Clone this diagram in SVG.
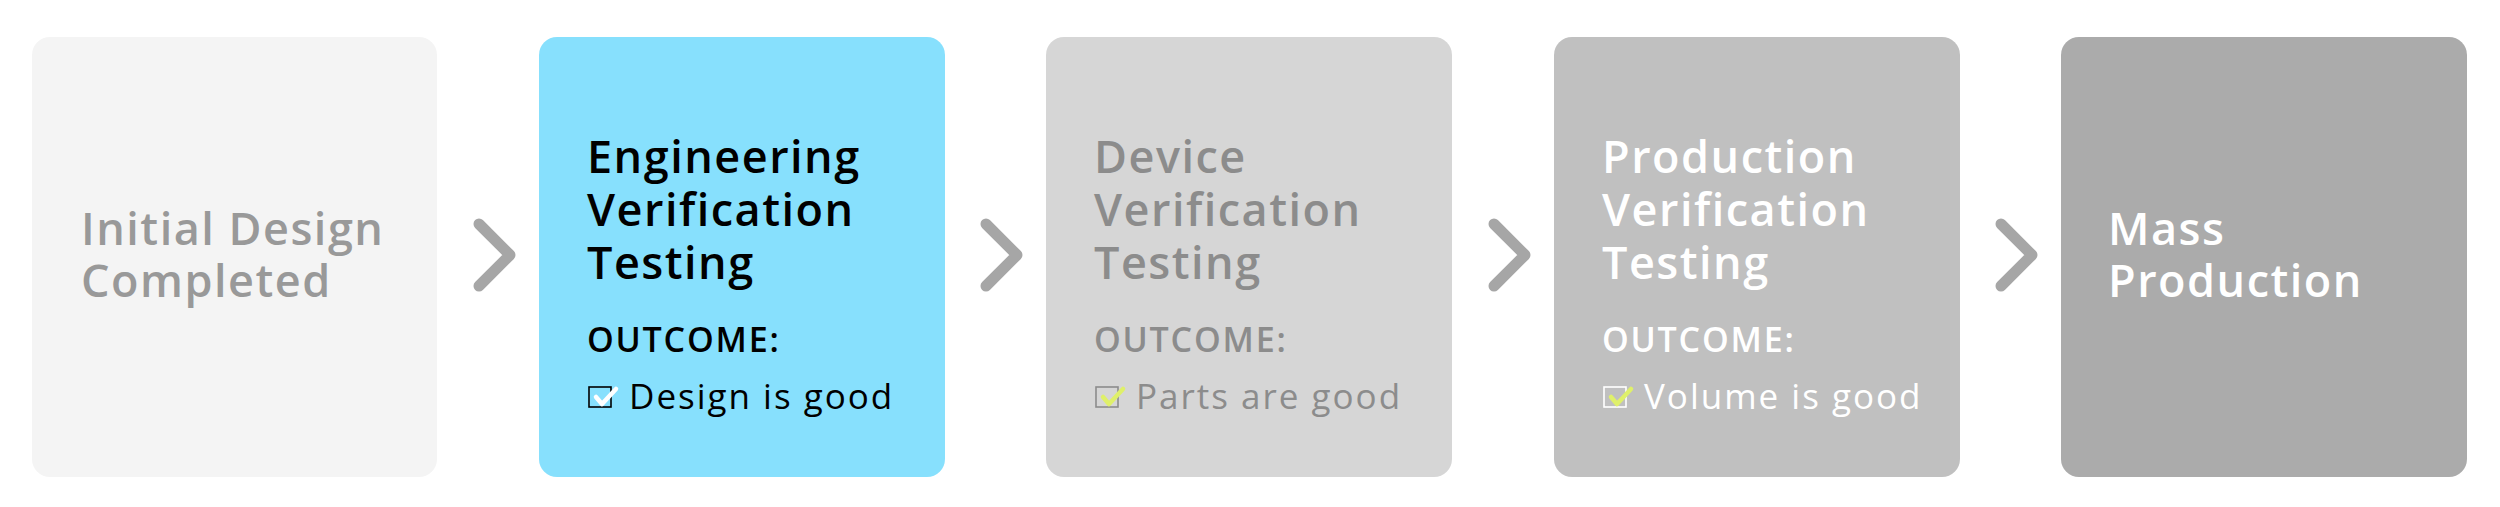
<svg xmlns="http://www.w3.org/2000/svg" width="2500" height="507" viewBox="0 0 2500 507">
<style>
.t{font-family:"Open Sans","Liberation Sans",sans-serif;font-size:45px;font-weight:600;letter-spacing:1.5px;}
.o{font-family:"Open Sans","Liberation Sans",sans-serif;font-size:34px;font-weight:600;letter-spacing:1.8px;}
.i{font-family:"Open Sans","Liberation Sans",sans-serif;font-size:35px;font-weight:400;letter-spacing:2px;}
.chev{fill:none;stroke:#a6a6a6;stroke-width:11;stroke-linecap:round;stroke-linejoin:round;}
.cb{fill:none;stroke-width:1.6;}
.ck{fill:none;stroke-width:4.5;stroke-linecap:round;stroke-linejoin:round;}
</style>
<rect width="2500" height="507" fill="#ffffff"/>
<g id="n1">
<rect x="32" y="37" width="405" height="440" rx="18" fill="#f4f4f4"/>
<text class="t" fill="#999999"><tspan x="81" y="245">Initial Design</tspan><tspan x="81" y="297">Completed</tspan></text>
</g>
<g id="n2">
<rect x="539" y="37" width="406" height="440" rx="18" fill="#87e0fd"/>
<text class="t" fill="#000000"><tspan x="587" y="173">Engineering</tspan><tspan x="587" y="226">Verification</tspan><tspan x="587" y="279">Testing</tspan></text>
<text class="o" x="587" y="352" fill="#000000">OUTCOME:</text>
<rect class="cb" x="589" y="387" width="22" height="20" stroke="#000000"/>
<path class="ck" d="M596,397 L602,404 L616,389" stroke="#ffffff"/>
<text class="i" x="629" y="409" fill="#000000">Design is good</text>
</g>
<g id="n3">
<rect x="1046" y="37" width="406" height="440" rx="18" fill="#d6d6d6"/>
<text class="t" fill="#8c8c8c"><tspan x="1094" y="173">Device</tspan><tspan x="1094" y="226">Verification</tspan><tspan x="1094" y="279">Testing</tspan></text>
<text class="o" x="1094" y="352" fill="#8c8c8c">OUTCOME:</text>
<rect class="cb" x="1096" y="387" width="22" height="20" stroke="#8c8c8c"/>
<path class="ck" d="M1103,397 L1109,404 L1123,389" stroke="#dff06a"/>
<text class="i" x="1136" y="409" fill="#8c8c8c">Parts are good</text>
</g>
<g id="n4">
<rect x="1554" y="37" width="406" height="440" rx="18" fill="#c0c0c0"/>
<text class="t" fill="#ffffff"><tspan x="1602" y="173">Production</tspan><tspan x="1602" y="226">Verification</tspan><tspan x="1602" y="279">Testing</tspan></text>
<text class="o" x="1602" y="352" fill="#ffffff">OUTCOME:</text>
<rect class="cb" x="1604" y="387" width="22" height="20" stroke="#ffffff"/>
<path class="ck" d="M1611,397 L1617,404 L1631,389" stroke="#dff06a"/>
<text class="i" x="1644" y="409" fill="#ffffff">Volume is good</text>
</g>
<g id="n5">
<rect x="2061" y="37" width="406" height="440" rx="18" fill="#ababab"/>
<text class="t" fill="#ffffff"><tspan x="2108" y="245">Mass</tspan><tspan x="2108" y="297">Production</tspan></text>
</g>
<g id="connectors">
<path class="chev" d="M479,224 L510,255 L479,286"/>
<path class="chev" d="M986,224 L1017,255 L986,286"/>
<path class="chev" d="M1494,224 L1525,255 L1494,286"/>
<path class="chev" d="M2001,224 L2032,255 L2001,286"/>
</g>
</svg>
